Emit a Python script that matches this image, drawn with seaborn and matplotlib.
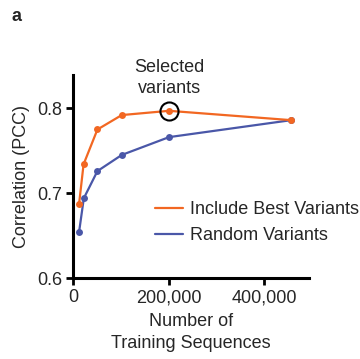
import matplotlib
matplotlib.use("Agg")
import matplotlib.pyplot as plt
import seaborn as sns
import pandas as pd

sns.set_theme(style="ticks")
plt.rcParams['font.family'] = ['Liberation Sans', 'DejaVu Sans']

x_best = [12500, 22000, 51000, 102000, 201000, 457000]
y_best = [0.687, 0.734, 0.775, 0.792, 0.797, 0.786]
x_rand = [12500, 22500, 51000, 102000, 201000, 457000]
y_rand = [0.654, 0.694, 0.726, 0.745, 0.766, 0.786]
series = ["Include Best Variants", "Random Variants"]
colors = ["#F26722", "#4A57A8"]

df = pd.concat([
    pd.DataFrame({"n": x_best, "pcc": y_best, "series": series[0]}),
    pd.DataFrame({"n": x_rand, "pcc": y_rand, "series": series[1]}),
])

FS = 13
fig = plt.figure(figsize=(3.6, 3.59), dpi=100)
ax = fig.add_axes([0.203, 0.2256, 0.655, 0.565])

sns.lineplot(data=df, x="n", y="pcc", hue="series", hue_order=series[::-1],
             palette=colors[::-1], marker="o", markersize=5, markeredgewidth=0,
             linewidth=1.6, ax=ax, legend=False)

from matplotlib.lines import Line2D
handles = [Line2D([0], [0], color=c, lw=1.6) for c in colors]
ax.legend(handles, series, loc="upper left", bbox_to_anchor=(0.347, 0.38),
          frameon=False, fontsize=FS, handlelength=1.55, handletextpad=0.4,
          labelspacing=0.5, borderaxespad=0, borderpad=0)

ax.plot([x_best[4]], [y_best[4]], marker="o", markersize=13, markerfacecolor="none",
        markeredgecolor="black", markeredgewidth=1.5, linestyle="none")
ax.annotate("Selected\nvariants", xy=(x_best[4], y_best[4]), xytext=(x_best[4], 0.813),
            ha="center", va="bottom", fontsize=FS, linespacing=1.35,
            annotation_clip=False)

ax.set_xlim(0, 494000)
ax.set_ylim(0.6, 0.839)
ax.set_xticks([0, 200000, 400000])
ax.set_xticklabels(["0", "200,000", "400,000"])
ax.set_yticks([0.6, 0.7, 0.8])
ax.set_yticklabels(["0.6", "0.7", "0.8"])
ax.set_xlabel("Number of\nTraining Sequences", fontsize=FS, labelpad=5, linespacing=1.4)
ax.set_ylabel("Correlation (PCC)", fontsize=FS, labelpad=5)
ax.tick_params(axis="both", labelsize=FS, width=2, length=5, color="black", pad=3)
for s in ["top", "right"]:
    ax.spines[s].set_visible(False)
for s in ["left", "bottom"]:
    ax.spines[s].set_linewidth(2.2)
    ax.spines[s].set_color("black")

fig.text(0.033, 0.978, "a", fontsize=13, fontweight="bold", va="top")

fig.savefig("out.png", dpi=100)
